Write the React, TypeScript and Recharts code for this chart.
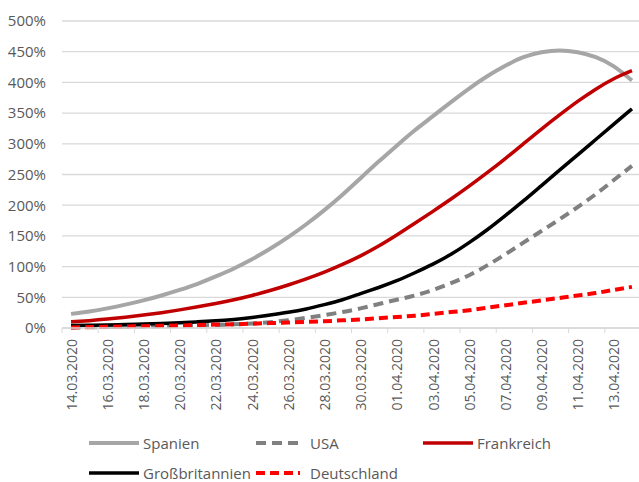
import React from 'react';
import { LineChart, Line, XAxis, YAxis, CartesianGrid } from 'recharts';

// Daily values 14.03.2020 – 14.04.2020, in percent
const dates = [
  '14.03.2020', '15.03.2020', '16.03.2020', '17.03.2020', '18.03.2020', '19.03.2020',
  '20.03.2020', '21.03.2020', '22.03.2020', '23.03.2020', '24.03.2020', '25.03.2020',
  '26.03.2020', '27.03.2020', '28.03.2020', '29.03.2020', '30.03.2020', '31.03.2020',
  '01.04.2020', '02.04.2020', '03.04.2020', '04.04.2020', '05.04.2020', '06.04.2020',
  '07.04.2020', '08.04.2020', '09.04.2020', '10.04.2020', '11.04.2020', '12.04.2020',
  '13.04.2020', '14.04.2020',
];

const spanien = [
  23, 27, 32, 38, 45, 53, 62, 72, 84, 97, 112, 129, 148, 169, 192, 217,
  244, 271, 297, 322, 345, 368, 390, 410, 427, 441, 449, 452, 449, 441, 426, 403,
];
const usa = [
  1, 1.3, 1.6, 2, 2.4, 2.9, 3.5, 4.2, 5, 6, 7.5, 9.5, 12.5, 16.5, 21, 26,
  32, 39, 46, 53, 62, 73, 86, 102, 120, 139, 158, 177, 197, 218, 241, 264,
];
const frankreich = [
  10, 12, 14.5, 17.5, 21, 25, 29.5, 34.5, 40, 46, 53, 61, 70, 80, 91, 103.5,
  117.5, 133.5, 151.5, 170.5, 190, 210, 231, 253, 276, 300, 324, 347, 369, 389, 406, 419,
];
const grossbritannien = [
  4, 4.5, 5, 5.7, 6.5, 7.4, 8.5, 10, 11.7, 14, 17, 21, 25.5, 31, 38, 46,
  56, 66, 77, 90, 104, 120, 139, 160, 183, 207, 232, 257, 282, 307, 332, 357,
];
const deutschland = [
  1, 1.5, 2, 2.5, 3, 3.5, 4, 5, 5.5, 6, 7, 8, 9, 10, 11, 12.5,
  14, 16, 18, 20, 23, 26, 29, 33, 37, 41, 45, 49, 53, 57, 62, 67,
];

const yTicks = [0, 50, 100, 150, 200, 250, 300, 350, 400, 450, 500];

const series = [
  { key: 'Spanien', values: spanien, color: '#a6a6a6', dash: undefined, width: 4 },
  { key: 'USA', values: usa, color: '#808080', dash: '10 6', width: 4 },
  { key: 'Frankreich', values: frankreich, color: '#c00000', dash: undefined, width: 3.5 },
  { key: 'Großbritannien', values: grossbritannien, color: '#000000', dash: undefined, width: 3.5 },
  { key: 'Deutschland', values: deutschland, color: '#ff0000', dash: '9 5', width: 4 },
];

const data = dates.map((date, i) => {
  const row: Record<string, string | number> = { date };
  series.forEach(s => {
    row[s.key] = s.values[i];
  });
  return row;
});

const FONT = '"Open Sans", sans-serif';
const TEXT = '#595959';
const GRID = '#d9d9d9';

const CHART_W = 660;
const CHART_H = 482;
const PLOT_LEFT = 62;
const PLOT_RIGHT = 641;
const STEP = (PLOT_RIGHT - PLOT_LEFT) / dates.length;

// Tick mark sits on the category boundary, label on the point itself
const DateTick = ({ x, y, payload }: any) => (
  <g transform={`translate(${x},${y})`}>
    <line x1={-STEP / 2} y1={0} x2={-STEP / 2} y2={5} stroke={GRID} strokeWidth={1} />
    <text
      transform="rotate(-90)"
      x={-11}
      y={0}
      dy="0.4em"
      textAnchor="end"
      fill={TEXT}
      fontSize={14}
      fontFamily={FONT}
    >
      {payload.value}
    </text>
  </g>
);

const LegendBox = () => (
  <div
    style={{
      position: 'absolute',
      left: 89,
      top: 428,
      width: 510,
      display: 'flex',
      flexWrap: 'wrap',
      fontFamily: FONT,
      fontSize: 15,
      color: TEXT,
    }}
  >
    {series.map(s => (
      <div key={s.key} style={{ width: 167, height: 30, display: 'flex', alignItems: 'center' }}>
        <svg width={54} height={10} style={{ flex: 'none' }}>
          <line
            x1={0}
            y1={5}
            x2={s.dash ? 44 : 50}
            y2={5}
            stroke={s.color}
            strokeWidth={s.width}
            strokeDasharray={s.dash}
          />
        </svg>
        <span>{s.key}</span>
      </div>
    ))}
  </div>
);

export default function App() {
  return (
    <div
      style={{
        position: 'absolute',
        left: 0,
        top: 0,
        width: 639,
        height: 482,
        overflow: 'hidden',
        background: '#ffffff',
      }}
    >
      <LineChart
        width={CHART_W}
        height={CHART_H}
        data={data}
        margin={{ top: 21, right: CHART_W - PLOT_RIGHT, bottom: 0, left: 0 }}
      >
        <CartesianGrid vertical={false} stroke={GRID} strokeWidth={1.3} />
        <XAxis
          dataKey="date"
          interval={1}
          height={154}
          padding={{ left: STEP / 2, right: STEP / 2 }}
          axisLine={{ stroke: GRID, strokeWidth: 1.3 }}
          tickLine={false}
          tickSize={0}
          tickMargin={0}
          tick={<DateTick />}
        />
        <YAxis
          width={PLOT_LEFT}
          domain={[0, 500]}
          ticks={yTicks}
          interval={0}
          axisLine={false}
          tickLine={false}
          tickSize={0}
          tickMargin={16}
          tickFormatter={(v: number) => `${v}%`}
          tick={{ fontSize: 15, fill: TEXT, fontFamily: FONT }}
        />
        {series.map(s => (
          <Line
            key={s.key}
            type="natural"
            dataKey={s.key}
            stroke={s.color}
            strokeWidth={s.width}
            strokeDasharray={s.dash}
            dot={false}
            activeDot={false}
            isAnimationActive={false}
          />
        ))}
      </LineChart>
      <LegendBox />
    </div>
  );
}
